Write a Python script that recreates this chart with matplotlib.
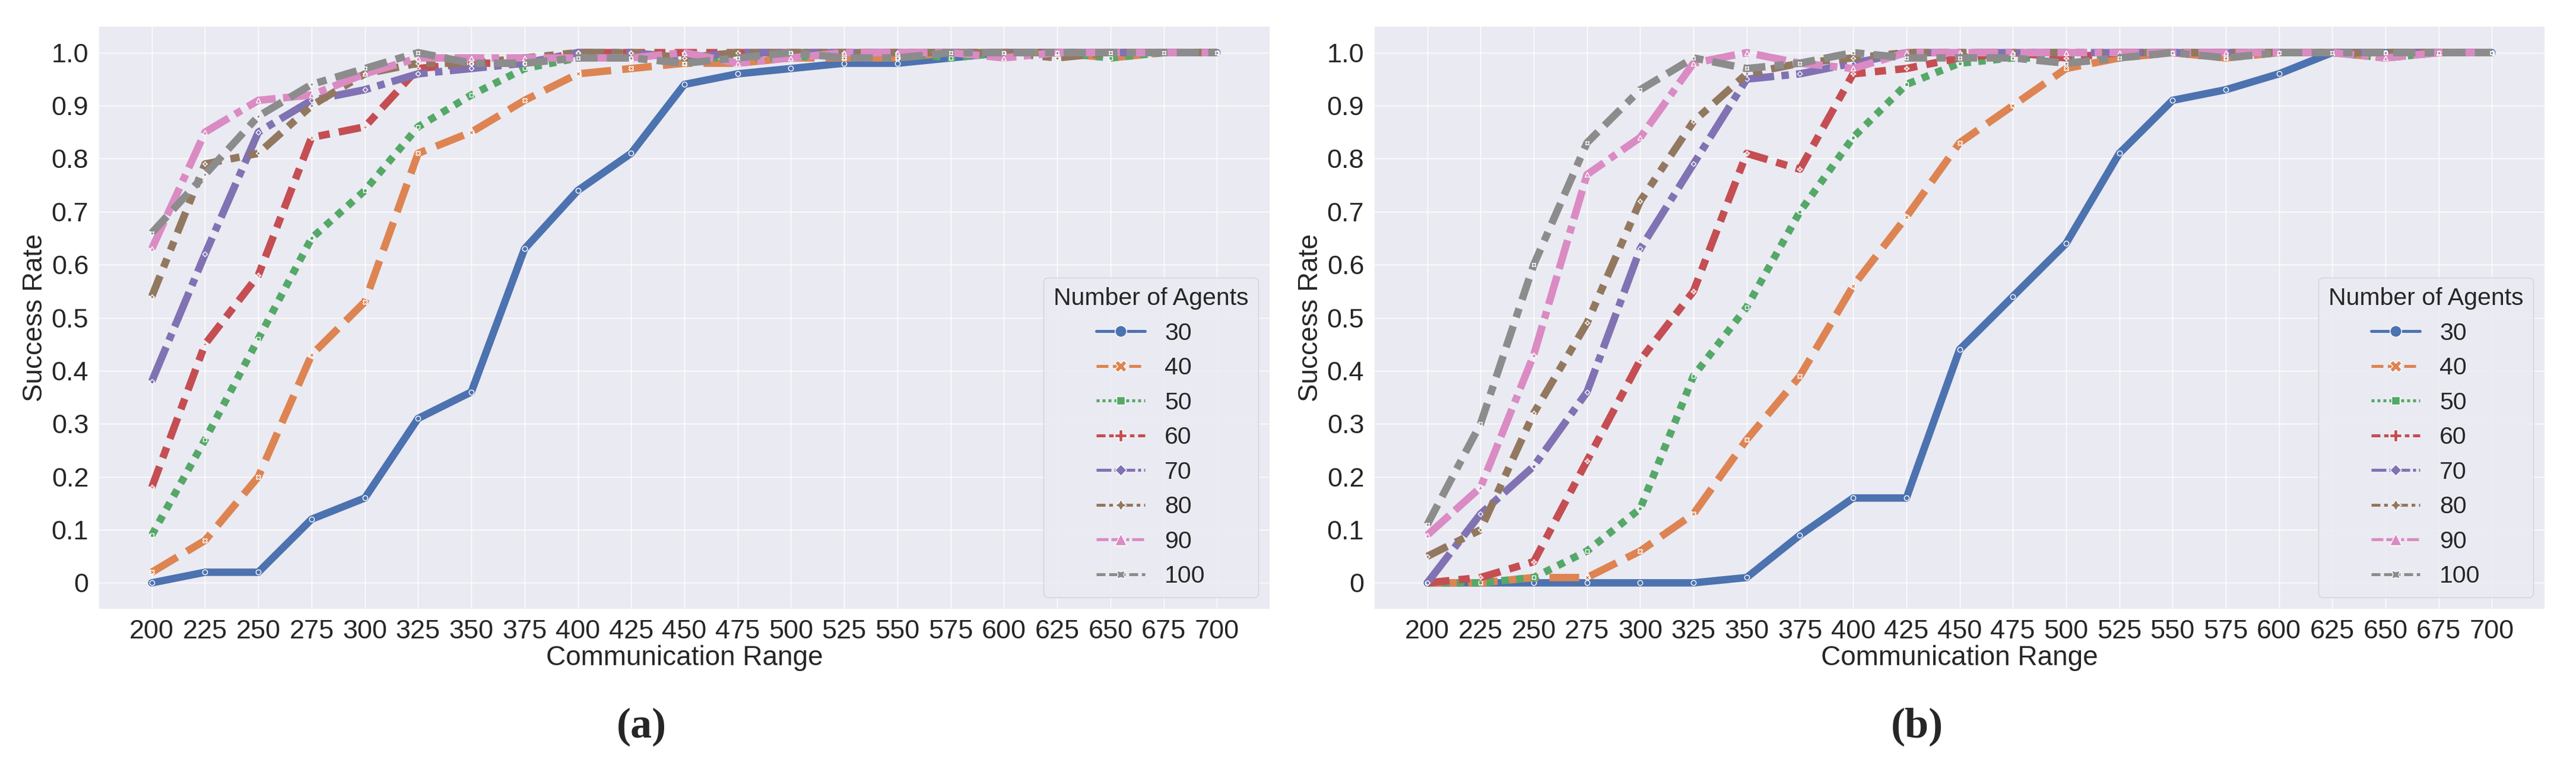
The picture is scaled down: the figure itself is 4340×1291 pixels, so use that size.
import matplotlib
matplotlib.use("Agg")
import matplotlib.pyplot as plt
from matplotlib.lines import Line2D
import seaborn as sns

# communication ranges on the x axis
ranges = list(range(200, 701, 25))
agents = [30, 40, 50, 60, 70, 80, 90, 100]
ytick_vals = [0, 0.1, 0.2, 0.3, 0.4, 0.5, 0.6, 0.7, 0.8, 0.9, 1.0]
ytick_labels = ["0", "0.1", "0.2", "0.3", "0.4", "0.5", "0.6", "0.7", "0.8", "0.9", "1.0"]

# panel (a) success rates
a_30 = [0.00, 0.02, 0.02, 0.12, 0.16, 0.31, 0.36, 0.63, 0.74, 0.81, 0.94, 0.96, 0.97, 0.98, 0.98, 0.99, 1.00, 1.00, 1.00, 1.00, 1.00]
a_40 = [0.02, 0.08, 0.20, 0.43, 0.53, 0.81, 0.85, 0.91, 0.96, 0.97, 0.98, 0.98, 0.99, 0.99, 0.99, 1.00, 1.00, 1.00, 0.99, 1.00, 1.00]
a_50 = [0.09, 0.27, 0.46, 0.65, 0.74, 0.86, 0.92, 0.97, 0.99, 1.00, 0.99, 0.99, 0.99, 1.00, 1.00, 0.99, 1.00, 1.00, 0.99, 1.00, 1.00]
a_60 = [0.18, 0.45, 0.58, 0.84, 0.86, 0.97, 0.98, 0.98, 1.00, 1.00, 1.00, 1.00, 1.00, 1.00, 1.00, 1.00, 1.00, 1.00, 1.00, 1.00, 1.00]
a_70 = [0.38, 0.62, 0.85, 0.91, 0.93, 0.96, 0.97, 0.98, 1.00, 1.00, 0.99, 1.00, 1.00, 1.00, 1.00, 1.00, 1.00, 1.00, 1.00, 1.00, 1.00]
a_80 = [0.54, 0.79, 0.81, 0.90, 0.96, 0.98, 0.98, 0.99, 1.00, 1.00, 0.99, 1.00, 1.00, 1.00, 1.00, 1.00, 1.00, 0.99, 1.00, 1.00, 1.00]
a_90 = [0.63, 0.85, 0.91, 0.92, 0.96, 0.99, 0.99, 0.99, 0.99, 0.99, 1.00, 0.98, 0.99, 1.00, 1.00, 1.00, 0.99, 1.00, 1.00, 1.00, 1.00]
a_100 = [0.66, 0.77, 0.88, 0.94, 0.97, 1.00, 0.98, 0.98, 0.99, 0.99, 0.98, 0.99, 1.00, 0.99, 0.99, 1.00, 1.00, 1.00, 1.00, 1.00, 1.00]

# panel (b) success rates
b_30 = [0.00, 0.00, 0.00, 0.00, 0.00, 0.00, 0.01, 0.09, 0.16, 0.16, 0.44, 0.54, 0.64, 0.81, 0.91, 0.93, 0.96, 1.00, 1.00, 1.00, 1.00]
b_40 = [0.00, 0.00, 0.01, 0.01, 0.06, 0.13, 0.27, 0.39, 0.56, 0.69, 0.83, 0.90, 0.97, 0.99, 1.00, 0.99, 1.00, 1.00, 0.99, 1.00, 1.00]
b_50 = [0.00, 0.00, 0.01, 0.06, 0.14, 0.39, 0.52, 0.70, 0.84, 0.94, 0.98, 0.99, 0.99, 1.00, 1.00, 1.00, 1.00, 1.00, 0.99, 1.00, 1.00]
b_60 = [0.00, 0.01, 0.04, 0.23, 0.42, 0.55, 0.81, 0.78, 0.96, 0.97, 0.99, 1.00, 0.99, 1.00, 1.00, 1.00, 1.00, 1.00, 1.00, 1.00, 1.00]
b_70 = [0.00, 0.13, 0.22, 0.36, 0.63, 0.79, 0.95, 0.96, 0.98, 1.00, 1.00, 1.00, 1.00, 1.00, 1.00, 1.00, 1.00, 1.00, 1.00, 1.00, 1.00]
b_80 = [0.05, 0.10, 0.32, 0.49, 0.72, 0.87, 0.96, 0.98, 0.99, 1.00, 1.00, 1.00, 1.00, 1.00, 1.00, 1.00, 1.00, 1.00, 1.00, 1.00, 1.00]
b_90 = [0.09, 0.18, 0.43, 0.77, 0.84, 0.98, 1.00, 0.98, 0.97, 1.00, 1.00, 1.00, 1.00, 1.00, 1.00, 1.00, 1.00, 1.00, 0.99, 1.00, 1.00]
b_100 = [0.11, 0.30, 0.60, 0.83, 0.93, 0.99, 0.97, 0.98, 1.00, 0.99, 0.99, 0.99, 0.98, 0.99, 1.00, 0.99, 1.00, 1.00, 1.00, 1.00, 1.00]

panel_a = [a_30, a_40, a_50, a_60, a_70, a_80, a_90, a_100]
panel_b = [b_30, b_40, b_50, b_60, b_70, b_80, b_90, b_100]

sns.set_theme(style="darkgrid")
plt.rcParams['font.family'] = ['Liberation Sans', 'DejaVu Sans']

colors = sns.color_palette("deep", 8)
dashes = ["", (4, 1.5), (1, 1), (3, 1.25, 1.5, 1.25), (5, 1, 1, 1),
          (3, 1.25, 1.25, 1.25, 1.25, 1.25), (4, 1, 4, 1, 1, 1),
          (3, 1.25, 3, 1.25, 1.25, 1.25)]
markers = ["o", "X", (4, 0, 45), "P", (4, 0, 0), (4, 1, 0), "^", (4, 1, 45)]


def line_style(d):
    if d == "":
        return "-"
    return (0, d)


def draw_panel(ax, series):
    for vals, c, d, m in zip(series, colors, dashes, markers):
        ax.plot(ranges, vals, color=c, lw=9, ls=line_style(d), marker=m,
                ms=6, mec="white", mew=1)

    ax.set_xticks(ranges)
    ax.set_xticklabels([str(r) for r in ranges])
    ax.set_yticks(ytick_vals)
    ax.set_yticklabels(ytick_labels)
    ax.set_ylim(-0.05, 1.05)
    ax.set_xlim(175, 725)
    ax.tick_params(labelsize=32.5, pad=6)
    ax.set_xlabel("Communication Range", fontsize=33, labelpad=2)
    ax.set_ylabel("Success Rate", fontsize=33, labelpad=4)

    handles = []
    for n, c, d, m in zip(agents, colors, dashes, markers):
        handles.append(Line2D([], [], color=c, lw=3.6, ls=line_style(d),
                              marker=m, ms=14, mec="white", mew=1, label=str(n)))
    ax.legend(handles=handles, title="Number of Agents", loc="lower right",
              fontsize=29.5, title_fontsize=29.5)


fig = plt.figure(figsize=(43.4, 12.91), dpi=100)
ax1 = fig.add_axes([166 / 4340, 264 / 1291, 1974 / 4340, 983 / 1291])
ax2 = fig.add_axes([2315 / 4340, 264 / 1291, 1973 / 4340, 983 / 1291])

draw_panel(ax1, panel_a)
draw_panel(ax2, panel_b)

fig.text(1081 / 4340, 1 - 1225 / 1291, "(a)", ha="center", va="center",
         fontsize=52, fontweight="bold", family="Liberation Serif")
fig.text(3230 / 4340, 1 - 1225 / 1291, "(b)", ha="center", va="center",
         fontsize=52, fontweight="bold", family="Liberation Serif")

fig.savefig("out.png", dpi=100)
